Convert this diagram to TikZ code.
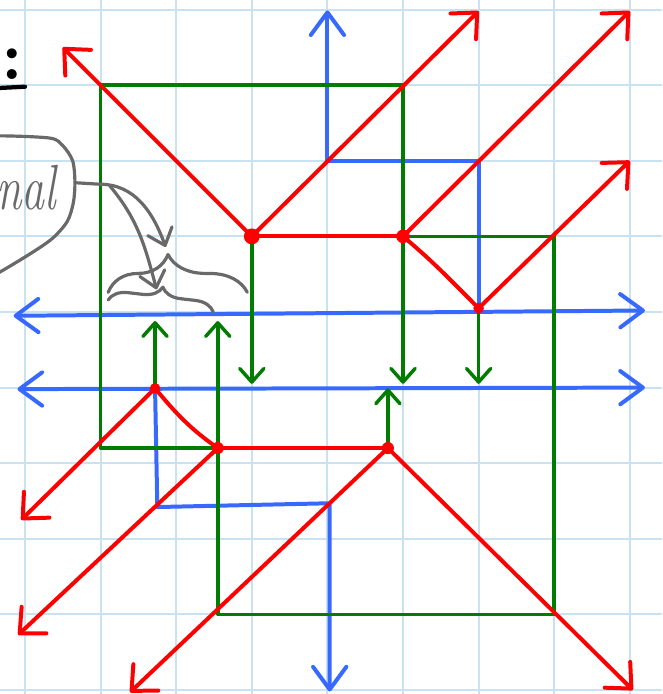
\documentclass[tikz,border=0pt]{standalone}
\usetikzlibrary{arrows.meta,decorations.pathreplacing}
\definecolor{gridblue}{RGB}{200,226,242}
\definecolor{penred}{RGB}{255,0,0}
\definecolor{pengreen}{RGB}{0,125,0}
\definecolor{penblue}{RGB}{55,105,255}
\definecolor{pengray}{RGB}{105,105,105}

\begin{document}
\begin{tikzpicture}[
		redline/.style={penred,line width=1.5pt,line cap=round,line join=round},
		redarr/.style={redline,-{Straight Barb[round,length=2.6mm,width=4.8mm]}},
		greenline/.style={pengreen,line width=1.3pt,line cap=round,line join=round},
		greenarr/.style={greenline,-{Straight Barb[round,length=1.8mm,width=3.2mm]}},
		blueline/.style={penblue,line width=1.5pt,line cap=round,line join=round},
		bluearr/.style={blueline,-{Straight Barb[round,length=3mm,width=4.4mm]}},
		bluedbl/.style={blueline,{Straight Barb[round,length=3mm,width=4.4mm]}-{Straight Barb[round,length=3mm,width=4.4mm]}},
		grayline/.style={pengray,line width=1.2pt,line cap=round,line join=round},
		grayarr/.style={grayline,-{Straight Barb[round,length=2mm,width=3.4mm]}}]
		% 画布与网格
		\useasboundingbox (-0.331,-0.053) rectangle (8.426,9.127);
		\clip (-0.331,-0.053) rectangle (8.426,9.127);
		\draw[gridblue,line width=0.75pt] (-0.331,-0.053) grid (8.426,9.127);
		
		% 交点
		\coordinate (A) at (3,6);
		\coordinate (B) at (5,6);
		\coordinate (C) at (6,5.05);
		\coordinate (D) at (1.72,3.99);
		\coordinate (E) at (2.55,3.2);
		\coordinate (F) at (4.8,3.2);
		
		% 蓝色
		\coordinate (L1) at (-0.15,4.95);
		\coordinate (R1) at (8.2,5.02);
		\coordinate (L2) at (-0.1,3.98);
		\coordinate (R2) at (8.2,4.0);
		\draw[bluedbl] (L1)--(R1);
		\draw[bluedbl] (L2)--(R2);
		\draw[bluearr] (C)--(6,7)--(4,7)--(4,8.99);
		\draw[bluearr] (D)--(1.75,2.42)--(4.03,2.47)--(4.03,-0.02);
		
		% 绿色
		\draw[greenarr] (E)--(1,3.2)--(1,8)--(5,8)--(5,4.05);
		\draw[greenarr] (A)--(3,4.05);
		\draw[greenarr] (B)--(7,6)--(7,1)--(2.55,1)--(2.55,4.88);
		\draw[greenarr] (D)--(1.72,4.88);
		\draw[greenarr] (C)--(6,4.05);
		\draw[greenarr] (F)--(4.8,3.99);
		
		% 红色
		\draw[redline] (A)--(B);
		\draw[redarr] (A)--(0.5,8.5);
		\draw[redarr] (A)--(6,8.98);
		\draw[redarr] (B)--(8,8.98);
		\draw[redline] (B) to[out=-40,in=135] (C);
		\draw[redarr] (C)--(8,7);
		\draw[redarr] (D)--(-0.05,2.25);
		\draw[redline] (D) to[out=-50,in=145] (E);
		\draw[redline] (E)--(F);
		\draw[redarr] (E)--(-0.09,0.73);
		\draw[redarr] (F)--(1.39,-0.03);
		\draw[redarr] (F)--(8.04,0);
		\fill[penred] (A) circle(0.105) (B) circle(0.09) (C) circle(0.07)
			(D) circle(0.07) (E) circle(0.08) (F) circle(0.08);
		
		% 左上角标题
		\node[font=\fontsize{26}{28}\selectfont\bfseries,anchor=base east,inner sep=0pt] (head) at (-0.02,8.08) {s:};
		\draw[line width=1.6pt,line cap=round] (-0.4,7.96)--(0,7.98);
		
		% 灰色注释
		\draw[grayline] plot[smooth] coordinates {(-0.6,7.3) (-0.33,7.33) (0.33,7.3) (0.5,7.2) (0.63,7.0) (0.66,6.72) (0.64,6.45) (0.56,6.2) (0.37,5.98) (0.1,5.79) (-0.33,5.53) (-0.6,5.4)};
		\node[pengray,font=\fontsize{24}{26}\selectfont\itshape,anchor=base east,inner sep=0pt] (nal) at (0.42,6.35) {\scalebox{0.72}[1]{nal}};
		\coordinate (blob) at (0.66,6.71);
		\coordinate (bigtip) at (1.89,5.78);
		\coordinate (smalltip) at (1.79,5.32);
		\draw[grayarr] (blob)--(0.99,6.69) to[out=0,in=110] (1.86,5.86);
		\draw[grayarr] (1.12,6.67) to[out=-50,in=105] (1.74,5.3);
		\draw[grayline,decorate,decoration={brace,amplitude=0.5cm,aspect=0.43}] (1.1,5.26)--(2.94,5.26);
		\draw[grayline,decorate,decoration={brace,amplitude=0.25cm,aspect=0.5}] (1.1,5.16)--(2.49,5.0);
		
	\end{tikzpicture}
\end{document}
